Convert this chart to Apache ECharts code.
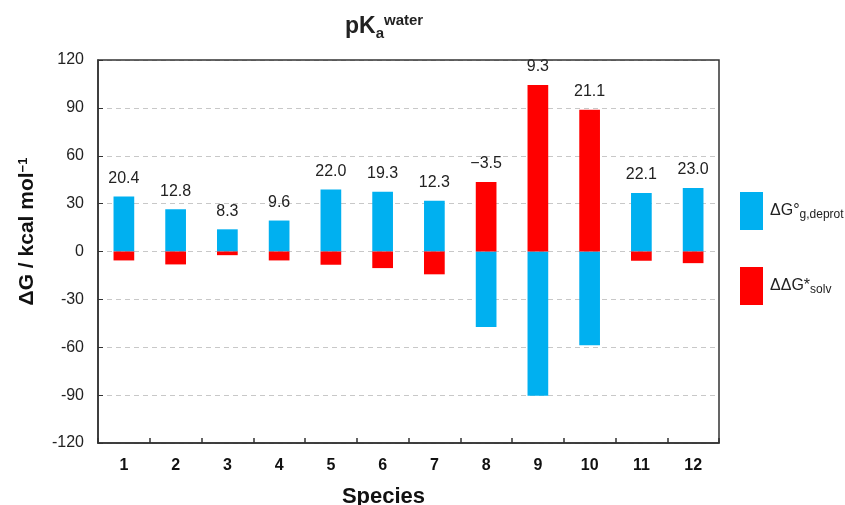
<!DOCTYPE html>
<html>
<head>
<meta charset="utf-8">
<script src="https://cdn.jsdelivr.net/npm/echarts@6/dist/echarts.min.js"></script>
<style>
html,body{margin:0;padding:0;background:#fff;}
#c{width:845px;height:505px;}
</style>
</head>
<body>
<div id="c"></div>
<script>
var species = ['1','2','3','4','5','6','7','8','9','10','11','12'];
var gDeprot = [34.4, 26.4, 13.9, 19.4, 38.9, 37.5, 31.8, -47.3, -90.4, -58.8, 36.7, 39.8];
var ddgSolv = [-5.6, -8.1, -2.3, -5.6, -8.3, -10.4, -14.3, 43.5, 104.4, 88.8, -5.8, -7.3];
var pkaLabels = ['20.4','12.8','8.3','9.6','22.0','19.3','12.3','\u22123.5','9.3','21.1','22.1','23.0'];
var yTicks = {min: -120, max: 120, interval: 30};

var FONT = 'Liberation Sans, Arial, sans-serif';
var BLUE = '#00B0F0', RED = '#FF0000';

function withLabels(values) {
  return values.map(function (v, i) {
    if (v > 0) {
      return {value: v, label: {show: true, formatter: pkaLabels[i]}};
    }
    return {value: v, label: {show: false}};
  });
}

var chart = echarts.init(document.getElementById('c'), null, {renderer: 'canvas'});
chart.setOption({
  animation: false,
  backgroundColor: '#fff',
  textStyle: {fontFamily: FONT},
  title: {
    text: '{m|pK}{sub|a}{sup|water}',
    left: 345,
    top: 13,
    padding: 0,
    textStyle: {
      fontFamily: FONT,
      rich: {
        m: {fontSize: 23, fontWeight: 'bold', color: '#222', lineHeight: 28, fontFamily: FONT},
        sub: {fontSize: 15, fontWeight: 'bold', color: '#222', lineHeight: 8, verticalAlign: 'bottom', fontFamily: FONT},
        sup: {fontSize: 15, fontWeight: 'bold', color: '#222', lineHeight: 18, verticalAlign: 'top', fontFamily: FONT}
      }
    }
  },
  legend: {
    orient: 'vertical',
    left: 740,
    top: 192,
    padding: 0,
    itemWidth: 23,
    itemHeight: 38,
    itemGap: 37,
    icon: 'rect',
    selectedMode: false,
    data: ['gdeprot', 'ddgsolv'],
    formatter: function (name) {
      if (name === 'gdeprot') return '{m|\u0394G\u00b0}{sub|g,deprot}';
      return '{m|\u0394\u0394G*}{sub|solv}';
    },
    textStyle: {
      fontFamily: FONT,
      rich: {
        m: {fontSize: 16, color: '#222', lineHeight: 20, padding: [0, 0, 0, 2], fontFamily: FONT},
        sub: {fontSize: 12, color: '#222', lineHeight: 4, verticalAlign: 'bottom', fontFamily: FONT}
      }
    }
  },
  grid: {
    left: 98, right: 126, top: 60, bottom: 62,
    outerBoundsMode: 'none',
    containLabel: false,
    show: true,
    z: 5,
    borderColor: '#333',
    borderWidth: 1.5,
    backgroundColor: 'transparent'
  },
  xAxis: {
    type: 'category',
    data: species,
    name: 'Species',
    nameLocation: 'middle',
    nameGap: 43,
    nameTextStyle: {fontSize: 22, fontWeight: 'bold', color: '#111', fontFamily: FONT, padding: [0, 50, 0, 0]},
    axisLine: {onZero: false, lineStyle: {color: '#333', width: 1.5}},
    axisTick: {show: true, inside: true, length: 5, alignWithLabel: false, lineStyle: {color: '#333', width: 1.5}},
    axisLabel: {fontSize: 16, fontWeight: 'bold', color: '#111', margin: 15, fontFamily: FONT},
    splitLine: {show: false}
  },
  yAxis: {
    type: 'value',
    min: yTicks.min,
    max: yTicks.max,
    interval: yTicks.interval,
    name: '\u0394G / kcal mol{sup|\u22121}',
    nameLocation: 'middle',
    nameGap: 60,
    nameTextStyle: {
      fontSize: 21, fontWeight: 'bold', color: '#111', fontFamily: FONT, padding: [0, 0, 0, 40],
      rich: {sup: {fontSize: 13, fontWeight: 'bold', color: '#111', verticalAlign: 'top', lineHeight: 12, fontFamily: FONT}}
    },
    axisLine: {show: true, lineStyle: {color: '#333', width: 1.5}},
    axisTick: {show: true, inside: true, length: 5, lineStyle: {color: '#333', width: 1}},
    axisLabel: {fontSize: 16, color: '#222', margin: 14, fontFamily: FONT},
    splitLine: {show: true, lineStyle: {color: '#c8c8c8', width: 1, type: [5, 4]}}
  },
  series: [
    {
      name: 'gdeprot',
      type: 'bar',
      stack: 'dg',
      barWidth: '40%',
      itemStyle: {color: BLUE},
      label: {position: 'top', distance: 10, fontSize: 16, color: '#222', fontFamily: FONT},
      data: withLabels(gDeprot)
    },
    {
      name: 'ddgsolv',
      type: 'bar',
      stack: 'dg',
      barWidth: '40%',
      itemStyle: {color: RED},
      label: {position: 'top', distance: 10, fontSize: 16, color: '#222', fontFamily: FONT},
      data: withLabels(ddgSolv)
    }
  ]
});
</script>
</body>
</html>
